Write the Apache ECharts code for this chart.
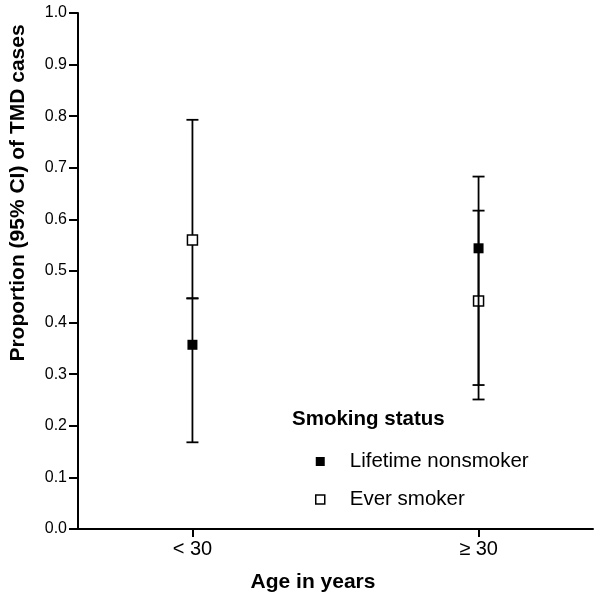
<!DOCTYPE html>
<html>
<head>
<meta charset="utf-8">
<script src="https://cdn.jsdelivr.net/npm/echarts@6/dist/echarts.min.js"></script>
<style>html,body{margin:0;padding:0;background:#fff;}#c{width:600px;height:598px;}</style>
</head>
<body>
<div id="c"></div>
<script>
var categories = ['< 30', '\u2265 30'];
var yTicks = [0, 0.1, 0.2, 0.3, 0.4, 0.5, 0.6, 0.7, 0.8, 0.9, 1.0];
var nonsmoker = [0.357, 0.544];
var nonsmokerLow = [0.168, 0.251];
var nonsmokerHigh = [0.447, 0.683];
var ever = [0.560, 0.442];
var everLow = [0.447, 0.279];
var everHigh = [0.793, 0.617];

var FONT = '"Liberation Sans", Arial, sans-serif';

function pts(vals) { return vals.map(function (v, i) { return [i, v]; }); }
function bars(lo, hi) { return lo.map(function (v, i) { return [i, v, hi[i]]; }); }

function renderErr(params, api) {
  var x = api.value(0);
  var lo = api.coord([x, api.value(1)]);
  var hi = api.coord([x, api.value(2)]);
  var hw = 6;
  var st = { stroke: '#000', lineWidth: 1.8 };
  return {
    type: 'group',
    children: [
      { type: 'line', shape: { x1: lo[0], y1: lo[1], x2: hi[0], y2: hi[1] }, style: st },
      { type: 'line', shape: { x1: lo[0] - hw, y1: lo[1], x2: lo[0] + hw, y2: lo[1] }, style: st },
      { type: 'line', shape: { x1: hi[0] - hw, y1: hi[1], x2: hi[0] + hw, y2: hi[1] }, style: st }
    ]
  };
}

var chart = echarts.init(document.getElementById('c'), null, { renderer: 'canvas' });
chart.setOption({
  animation: false,
  backgroundColor: '#fff',
  grid: { left: 78, right: 7, top: 13, bottom: 69 },
  xAxis: {
    type: 'value', min: -0.4, max: 1.4,
    splitLine: { show: false },
    axisLine: { show: true, onZero: false, lineStyle: { color: '#000', width: 2 } },
    axisTick: { show: true, length: 8, customValues: [0, 1], lineStyle: { color: '#000', width: 2 } },
    axisLabel: { customValues: [0, 1], margin: 10, color: '#000', fontSize: 20, fontFamily: FONT,
      formatter: function (v) { return categories[Math.round(v)]; } }
  },
  yAxis: {
    type: 'value', min: 0, max: 1, interval: 0.1,
    splitLine: { show: false },
    axisLine: { show: true, onZero: false, lineStyle: { color: '#000', width: 2 } },
    axisTick: { show: true, length: 9, lineStyle: { color: '#000', width: 2 } },
    axisLabel: { margin: 11, color: '#000', fontSize: 16, fontFamily: FONT,
      formatter: function (v) { return v.toFixed(1); } }
  },
  legend: {
    orient: 'vertical', left: 315, top: 451, padding: 0, itemGap: 17,
    itemWidth: 9, itemHeight: 9, icon: 'rect',
    textStyle: { color: '#000', fontSize: 20.5, fontFamily: FONT, padding: [0, 0, 0, 20], lineHeight: 20 },
    data: [
      { name: 'Lifetime nonsmoker', itemStyle: { color: '#000', borderColor: '#000', borderWidth: 0 } },
      { name: 'Ever smoker', itemStyle: { color: '#fff', borderColor: '#000', borderWidth: 1.5 } }
    ]
  },
  graphic: [
    { type: 'text', left: 292, top: 409, style: { text: 'Smoking status', fill: '#000', font: 'bold 20.5px ' + FONT } },
    { type: 'text', x: 313, y: 582, style: { text: 'Age in years', fill: '#000', font: 'bold 21px ' + FONT, textAlign: 'center', textVerticalAlign: 'middle' } },
    { type: 'text', x: 18, y: 193, rotation: Math.PI / 2, style: { text: 'Proportion (95% CI) of TMD cases', fill: '#000', font: 'bold 21px ' + FONT, textAlign: 'center', textVerticalAlign: 'middle' } }
  ],
  series: [
    { name: 'Ever smoker', type: 'custom', renderItem: renderErr, data: bars(everLow, everHigh), z: 2, silent: true },
    { name: 'Ever smoker', type: 'scatter', symbol: 'rect', symbolSize: 10, data: pts(ever), z: 3,
      itemStyle: { color: '#fff', borderColor: '#000', borderWidth: 1.5, opacity: 1 } },
    { name: 'Lifetime nonsmoker', type: 'custom', renderItem: renderErr, data: bars(nonsmokerLow, nonsmokerHigh), z: 4, silent: true },
    { name: 'Lifetime nonsmoker', type: 'scatter', symbol: 'rect', symbolSize: 10, data: pts(nonsmoker), z: 5,
      itemStyle: { color: '#000', borderColor: '#000', borderWidth: 0, opacity: 1 } }
  ]
});
</script>
</body>
</html>
